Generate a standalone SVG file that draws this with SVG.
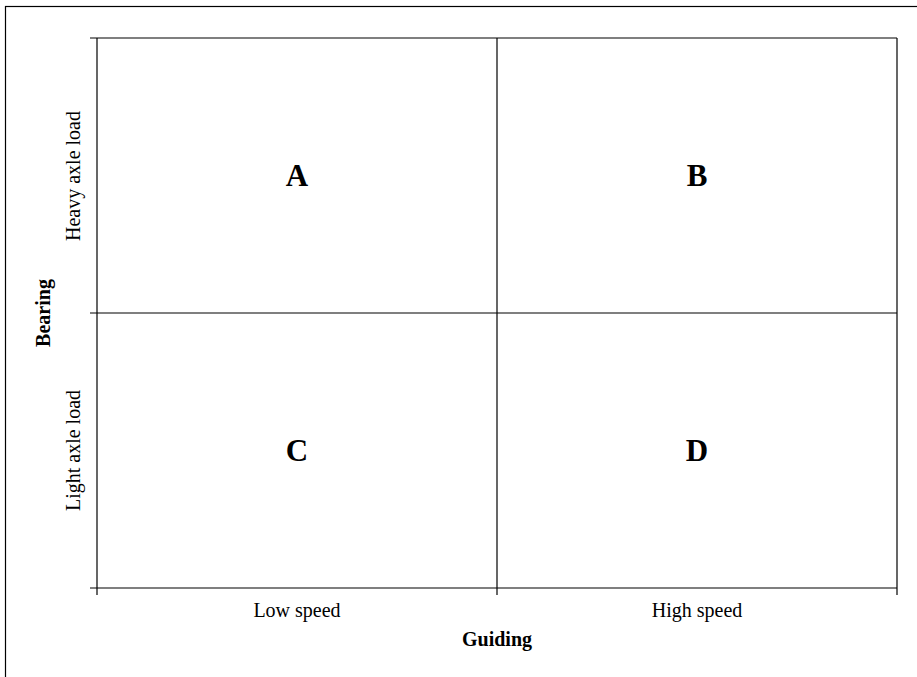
<svg xmlns="http://www.w3.org/2000/svg" width="917" height="677" viewBox="0 0 917 677">
<style>
.ln{stroke:#000;stroke-width:1.2;fill:none}
.lbl{font-family:"Liberation Serif",serif;font-size:20px;fill:#000;text-anchor:middle}
.ttl{font-family:"Liberation Serif",serif;font-size:20px;font-weight:bold;fill:#000;text-anchor:middle}
.q{font-family:"Liberation Serif",serif;font-size:31px;font-weight:bold;fill:#000;text-anchor:middle}
</style>
<rect x="0" y="0" width="917" height="677" fill="#fff"/>
<rect x="5.5" y="6.5" width="930" height="690" class="ln"/>
<g id="connectors">
<line x1="90" y1="38" x2="897" y2="38" class="ln"/>
<line x1="90" y1="313" x2="897" y2="313" class="ln"/>
<line x1="90" y1="588" x2="897" y2="588" class="ln"/>
<line x1="97" y1="38" x2="97" y2="595" class="ln"/>
<line x1="497" y1="38" x2="497" y2="595" class="ln"/>
<line x1="897" y1="38" x2="897" y2="595" class="ln"/>
</g>
<g id="A"><text x="297" y="186" class="q">A</text></g>
<g id="B"><text x="697" y="186" class="q">B</text></g>
<g id="C"><text x="297" y="461" class="q">C</text></g>
<g id="D"><text x="697" y="461" class="q">D</text></g>
<g id="xaxis">
<text x="297" y="617" class="lbl">Low speed</text>
<text x="697" y="617" class="lbl">High speed</text>
<text x="497" y="646" class="ttl">Guiding</text>
</g>
<g id="yaxis">
<text transform="translate(80,176) rotate(-90)" class="lbl">Heavy axle load</text>
<text transform="translate(80,450.5) rotate(-90)" class="lbl">Light axle load</text>
<text transform="translate(50,313) rotate(-90)" class="ttl">Bearing</text>
</g>
</svg>
